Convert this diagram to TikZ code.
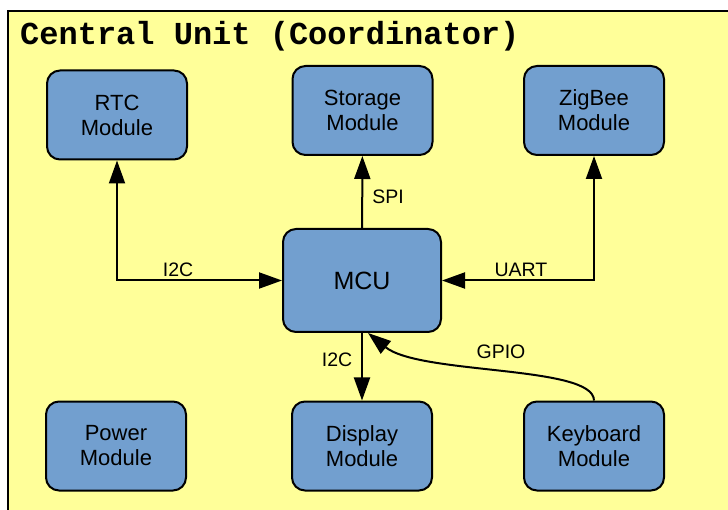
\documentclass[tikz,border=0pt]{standalone}
\usepackage{fontspec}
\setmainfont{Liberation Sans}
\newfontfamily\titlefont{Liberation Mono}
\usetikzlibrary{arrows.meta}
\definecolor{bgyellow}{HTML}{FFFF99}
\definecolor{boxblue}{HTML}{729FCF}
\begin{document}
\begin{tikzpicture}[x=1pt,y=-1pt,
  module/.style={draw=black, line width=2pt, fill=boxblue, rounded corners=13pt,
    minimum width=140pt, minimum height=89pt, align=center, inner sep=0pt,
    font=\fontsize{22}{25}\selectfont},
  tip/.tip={Triangle[length=23pt,width=16pt]},
  link/.style={line width=2pt, -tip},
  both/.style={line width=2pt, tip-tip},
  lbl/.style={font=\fontsize{19.5}{20}\selectfont, inner sep=0pt}]
  \useasboundingbox (0,0) rectangle (728,510);
  % frame of the unit
  \fill[bgyellow] (8,11) rectangle (745,525);
  \draw[line width=1.5pt] (745,11) -- (8,11) -- (8,525);
  \node[anchor=base west, inner sep=0pt, font=\titlefont\bfseries\fontsize{32}{36}\selectfont] (title) at (20,45) {Central Unit (Coordinator)};
  % modules
  \node[module] (rtc) at (117,115) {RTC\\Module};
  \node[module] (sto) at (362.5,110.5) {Storage\\Module};
  \node[module] (zig) at (594,110.5) {ZigBee\\Module};
  \node[module, minimum width=158pt, minimum height=103pt, font=\fontsize{25}{30}\selectfont] (mcu) at (362,280.5) {MCU};
  \node[module] (pow) at (116,446) {Power\\Module};
  \node[module] (dis) at (362,446) {Display\\Module};
  \node[module] (key) at (594,446) {Keyboard\\Module};
  % buses
  \draw[link] (mcu) -- (sto);
  \node[lbl] (spi) at (388,197) {SPI};
  \draw[both] (rtc.south) |- (mcu.west);
  \node[lbl] (i2ca) at (178,270) {I2C};
  \draw[both] (zig.south) |- (mcu.east);
  \node[lbl] (uart) at (521,270) {UART};
  \draw[link] (mcu.south) -- (dis.north);
  \node[lbl] (i2cb) at (337,360) {I2C};
  \draw[link] (key.north) .. controls (594,365) and (420,375) .. ([xshift=6pt]mcu.south);
  \node[lbl] (gpio) at (501,352) {GPIO};
\end{tikzpicture}
\end{document}
